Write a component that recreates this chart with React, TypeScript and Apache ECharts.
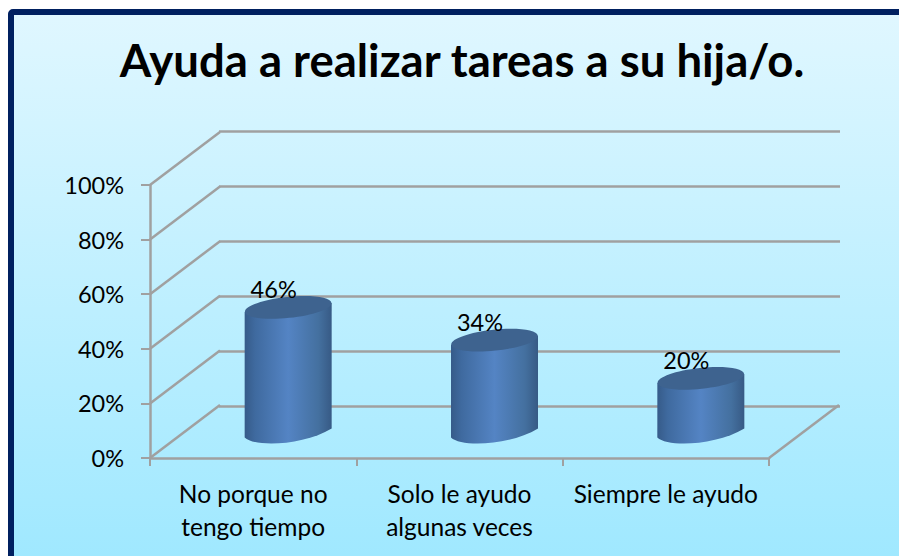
import React, { useEffect, useRef } from "react";
import * as echarts from "echarts";

const titleText = "Ayuda a realizar tareas a su hija/o.";
const categories = ["No porque no\ntengo tiempo", "Solo le ayudo\nalgunas veces", "Siempre le ayudo"];
const values = [46, 34, 20];
const ticks = [0, 20, 40, 60, 80, 100];

const DX = 70;
const DY = -53;
const FONT = "Lato, 'Open Sans', sans-serif";
const LINE = "#a0a0a0";

function wallItem(params: any, api: any) {
  const v = api.value(0);
  const half = api.size([1, 0])[0] / 2;
  const p = api.coord([0, v]);
  const x0 = p[0] - half;
  const children: any[] = [
    { type: "line", shape: { x1: x0, y1: p[1], x2: x0 + DX, y2: p[1] + DY }, style: { stroke: LINE, lineWidth: 2.5 } },
  ];
  if (v === 0) {
    const q = api.coord([2, 0]);
    const x1 = q[0] + half;
    children.push({ type: "line", shape: { x1, y1: q[1], x2: x1 + DX, y2: q[1] + DY }, style: { stroke: LINE, lineWidth: 2.5 } });
  }
  return { type: "group", children };
}

function cylinderItem(params: any, api: any) {
  const idx = api.value(0);
  const v = api.value(1);
  const base = api.coord([idx, 0]);
  const top = api.coord([idx, v]);
  const cx = base[0] + 35;
  const off = -25;
  const by = base[1] + off;
  const ty = top[1] + off;
  const rx = 43.5;
  const ry = 10.5;
  const tilt = 4.5;
  const l = cx - rx;
  const r = cx + rx;
  const d = `M${l} ${ty + tilt}L${l} ${by + tilt}C${l + 10} ${by + tilt + 10} ${r - 28} ${by + tilt + 8} ${r} ${by - tilt}L${r} ${ty - tilt}Z`;
  return {
    type: "group",
    children: [
      {
        type: "path",
        shape: { pathData: d, layout: "none" },
        style: {
          fill: {
            type: "linear", x: 0, y: 0, x2: 1, y2: 0,
            colorStops: [
              { offset: 0, color: "#365b89" },
              { offset: 0.12, color: "#3f6a9f" },
              { offset: 0.5, color: "#5484c4" },
              { offset: 0.85, color: "#44709f" },
              { offset: 1, color: "#375a85" },
            ],
          },
        },
      },
      {
        type: "ellipse",
        x: cx,
        y: ty,
        rotation: 0.105,
        shape: { cx: 0, cy: 0, rx, ry },
        style: { fill: "#3e638f" },
      },
      {
        type: "text",
        x: cx - 14.5,
        y: ty - 6,
        style: {
          text: `${v}%`,
          fill: "#000",
          font: `23.5px ${FONT}`,
          align: "center",
          verticalAlign: "bottom",
        },
      },
    ],
  };
}

export default function App() {
  const ref = useRef<HTMLDivElement>(null);
  useEffect(() => {
    document.body.style.margin = "0";
    const chart = echarts.init(ref.current!, null, { renderer: "svg" });
    chart.setOption({
      animation: false,
      title: {
        text: titleText,
        left: 457,
        top: 31,
        textAlign: "center",
        textStyle: { fontFamily: FONT, fontWeight: "bold", fontSize: 45.5, color: "#000" },
      },
      graphic: [
        {
          type: "rect",
          z: -10,
          silent: true,
          shape: { x: 11, y: 12, width: 900, height: 560, r: 2 },
          style: {
            fill: {
              type: "linear", x: 0, y: 0, x2: 0, y2: 1,
              colorStops: [
                { offset: 0, color: "#e0f7ff" },
                { offset: 1, color: "#9ee8ff" },
              ],
            },
            stroke: "#002060",
            lineWidth: 6,
          },
        },
      ],
      grid: [
        { left: 150, top: 185, width: 619, height: 273 },
        { left: 219, top: 131, width: 621, height: 275 },
      ],
      xAxis: [
        {
          type: "category",
          gridIndex: 0,
          data: categories,
          boundaryGap: true,
          axisLine: { lineStyle: { color: LINE, width: 2.5 } },
          axisTick: { show: true, length: 8, lineStyle: { color: LINE, width: 2 } },
          axisLabel: { color: "#000", fontFamily: FONT, fontSize: 24.5, lineHeight: 33, margin: 19, interval: 0 },
        },
        {
          type: "category",
          gridIndex: 1,
          data: categories,
          axisLine: { show: false },
          axisTick: { show: false },
          axisLabel: { show: false },
        },
      ],
      yAxis: [
        {
          type: "value",
          gridIndex: 0,
          min: 0,
          max: 100,
          interval: 20,
          axisLine: { show: true, lineStyle: { color: LINE, width: 2.5 } },
          axisTick: { show: true, length: 9, lineStyle: { color: LINE, width: 2 } },
          splitLine: { show: false },
          axisLabel: { color: "#000", fontFamily: FONT, fontSize: 23.5, margin: 26, formatter: "{value}%" },
        },
        {
          type: "value",
          gridIndex: 1,
          min: 0,
          max: 100,
          interval: 20,
          axisLine: { show: false },
          axisTick: { show: false },
          axisLabel: { show: false },
          splitLine: { show: true, lineStyle: { color: LINE, width: 2.5 } },
        },
      ],
      series: [
        {
          type: "custom",
          name: "walls",
          xAxisIndex: 0,
          yAxisIndex: 0,
          silent: true,
          clip: false,
          z: 1,
          data: ticks.map((t) => [t]),
          renderItem: wallItem,
        },
        {
          type: "custom",
          name: "Ayuda",
          xAxisIndex: 0,
          yAxisIndex: 0,
          clip: false,
          z: 5,
          encode: { x: 0, y: 1 },
          data: values.map((v, i) => [i, v]),
          renderItem: cylinderItem,
        },
      ],
    });
    return () => chart.dispose();
  }, []);
  return <div ref={ref} style={{ width: 899, height: 556 }} />;
}
